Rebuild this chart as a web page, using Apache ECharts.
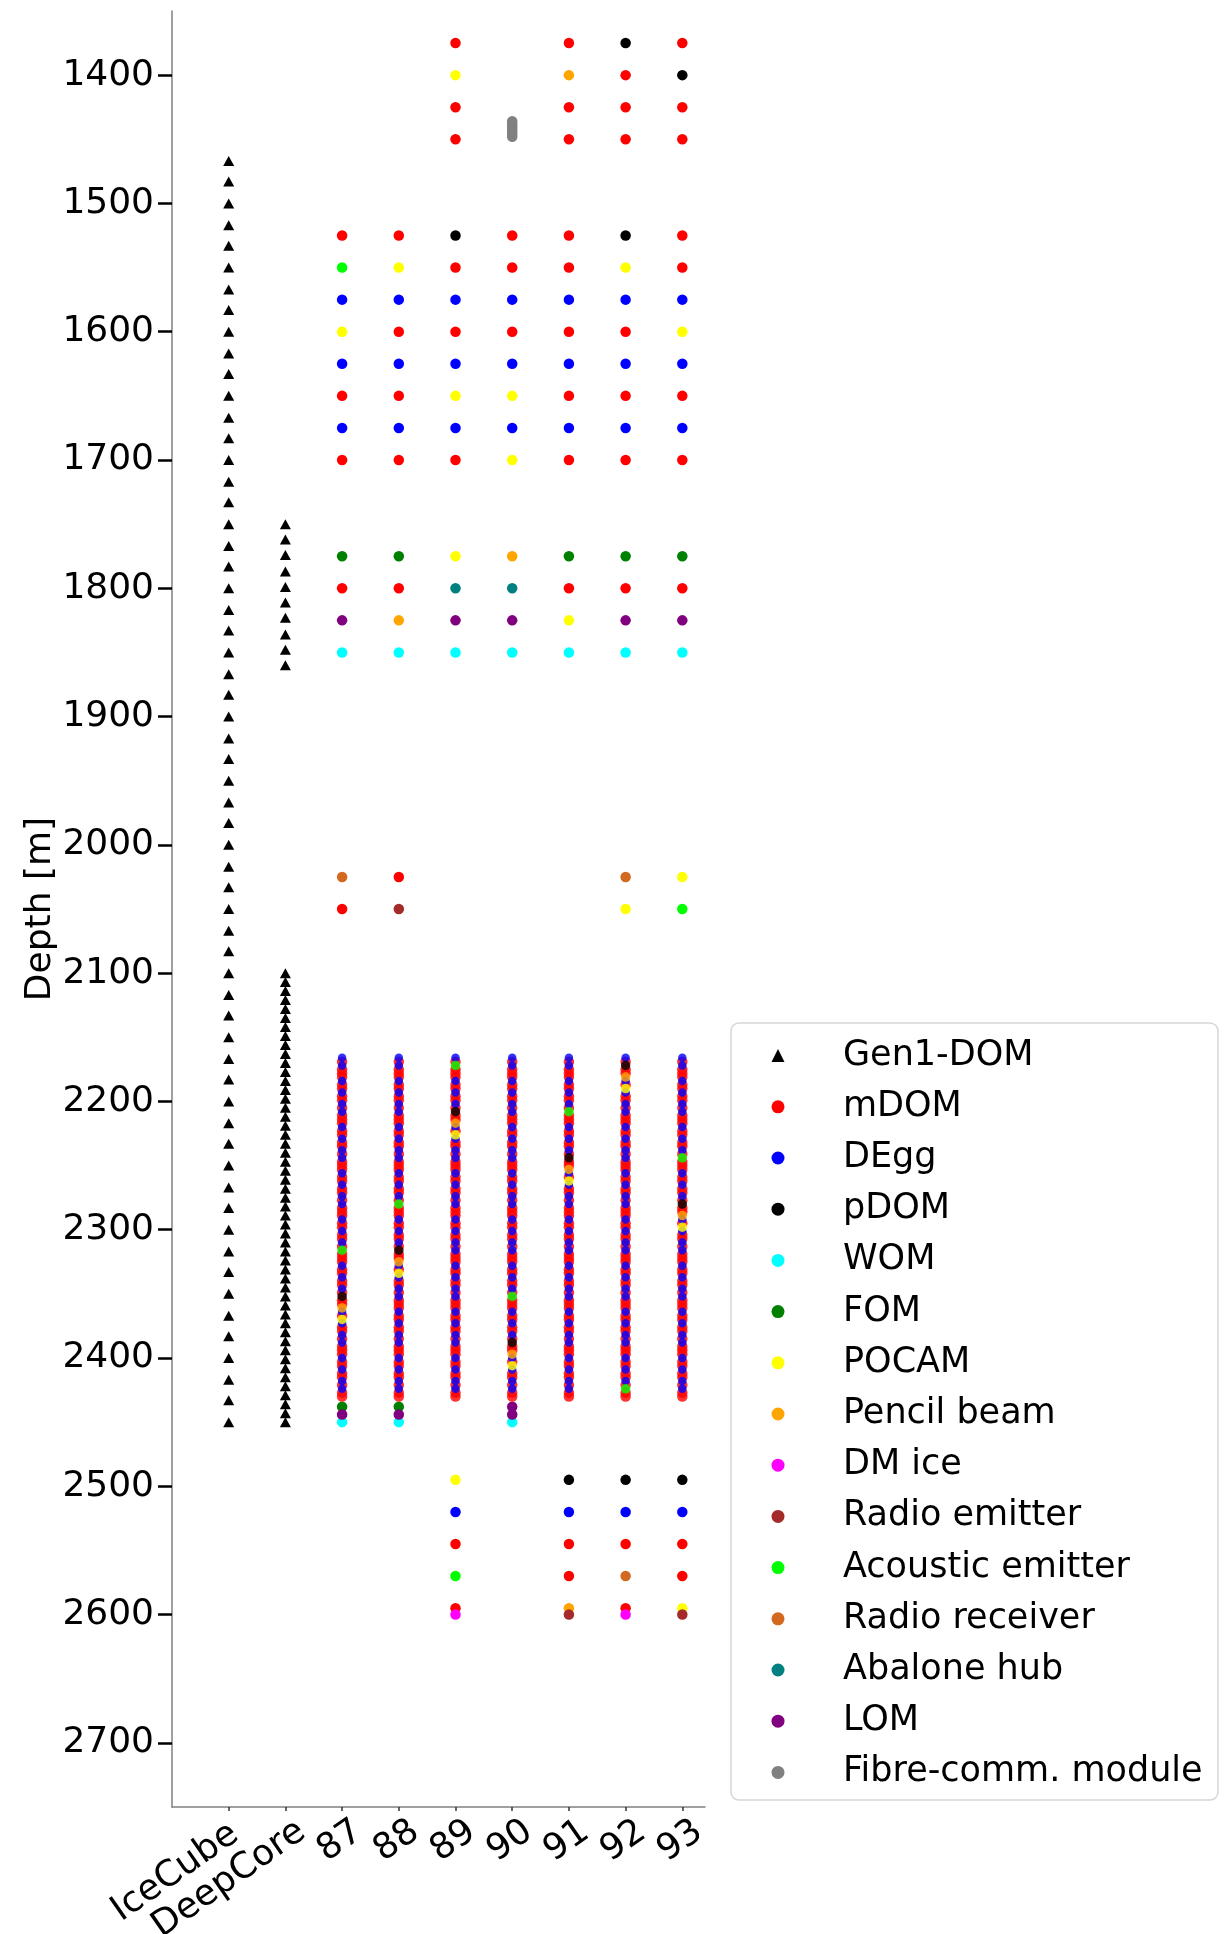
<!DOCTYPE html>
<html>
<head>
<meta charset="utf-8">
<script src="https://cdn.jsdelivr.net/npm/echarts@6/dist/echarts.min.js"></script>
<style>
html,body{margin:0;padding:0;background:#fff;}
#chart{width:1228px;height:1934px;}
</style>
</head>
<body>
<div id="chart"></div>
<script>
// ---------------- DATA ----------------
const categories = ['IceCube', 'DeepCore', '87', '88', '89', '90', '91', '92', '93'];
const yTickValues = [1400, 1500, 1600, 1700, 1800, 1900, 2000, 2100, 2200, 2300, 2400, 2500, 2600, 2700];

const moduleNames = ['Gen1-DOM', 'mDOM', 'DEgg', 'pDOM', 'WOM', 'FOM', 'POCAM', 'Pencil beam', 'DM ice',
  'Radio emitter', 'Acoustic emitter', 'Radio receiver', 'Abalone hub', 'LOM', 'Fibre-comm. module'];
const moduleCodes = ['T', 'M', 'D', 'P', 'W', 'F', 'C', 'B', 'I', 'R', 'A', 'V', 'H', 'L', 'G'];

// IceCube string (Gen1 DOMs)
const icecubeDepths = [1467, 1483, 1500, 1517, 1533, 1550, 1567, 1583, 1600, 1617, 1633, 1650, 1667, 1683, 1700,
  1717, 1733, 1750, 1767, 1783, 1800, 1817, 1833, 1850, 1867, 1883, 1900, 1917, 1933, 1950, 1967, 1983, 2000,
  2017, 2033, 2050, 2067, 2083, 2100, 2117, 2133, 2150, 2167, 2183, 2200, 2217, 2233, 2250, 2267, 2283, 2300,
  2317, 2333, 2350, 2367, 2383, 2400, 2417, 2433, 2450];

// DeepCore string (Gen1 DOMs)
const deepcoreDepths = [1750, 1762, 1774, 1787, 1799, 1811, 1823, 1836, 1848, 1860,
  2100, 2107, 2114, 2121, 2128, 2135, 2142, 2149, 2156, 2163, 2170, 2177, 2184, 2191, 2198, 2205, 2212,
  2219, 2226, 2233, 2240, 2247, 2254, 2261, 2268, 2275, 2282, 2289, 2296, 2303, 2310, 2317, 2324, 2331,
  2338, 2345, 2352, 2359, 2366, 2373, 2380, 2387, 2394, 2401, 2408, 2415, 2422, 2429, 2436, 2443, 2450];

// Upgrade strings 87..93, sparse rows: one character per string (87..93), '.' = none
const sparseDepths = [1375, 1400, 1425, 1450, 1525, 1550, 1575, 1600, 1625, 1650, 1675, 1700,
  1775, 1800, 1825, 1850, 2025, 2050, 2438, 2444, 2450, 2495, 2520, 2545, 2570, 2595, 2600];
const sparseCodes = ['..M.MPM', '..C.BMP', '..M.MMM', '..M.MMM', 'MMPMMPM', 'ACMMMCM', 'DDDDDDD',
  'CMMMMMC', 'DDDDDDD', 'MMCCMMM', 'DDDDDDD', 'MMMCMMM', 'FFCBFFF', 'MMHHMMM', 'LBLLCLL', 'WWWWWWW',
  'VM...VC', 'MR...CA', 'FF.L...', 'LL.L...', 'WW.W...', '..C.PPP', '..D.DDD', '..M.MMM', '..A.MVM',
  '..M.BMC', '..I.RIR'];

// Dense region (all upgrade strings), top to bottom
const denseDepths = [2166, 2169, 2172, 2175, 2178, 2181, 2184, 2187, 2190, 2193,
  2196, 2199, 2202, 2205, 2208, 2211, 2214, 2217, 2220, 2223,
  2226, 2229, 2232, 2235, 2238, 2241, 2244, 2247, 2250, 2253,
  2256, 2259, 2262, 2265, 2268, 2271, 2274, 2277, 2280, 2283,
  2286, 2289, 2292, 2295, 2298, 2301, 2304, 2307, 2310, 2313,
  2316, 2319, 2322, 2325, 2328, 2331, 2334, 2337, 2340, 2343,
  2346, 2349, 2352, 2355, 2358, 2361, 2364, 2367, 2370, 2373,
  2376, 2379, 2382, 2385, 2388, 2391, 2394, 2397, 2400, 2403,
  2406, 2409, 2412, 2415, 2418, 2421, 2424, 2427, 2430];
const denseCodes = ['DMDMMMDMMDMM', 'DMDMMMDMMDMM', 'DMDMMMDMMDMM', 'DMDMMMDMMDMM',
  'DMDMMMDMMDMM', 'DMDMMMDMMDMM', 'DMDMMMDMMDMM', 'DMDMM'].join('');
const denseSpecials = {
  '87': [[2316, 'A'], [2352, 'P'], [2361, 'B'], [2370, 'C']],
  '88': [[2280, 'A'], [2316, 'P'], [2325, 'B'], [2334, 'C']],
  '89': [[2172, 'A'], [2208, 'P'], [2217, 'B'], [2226, 'C']],
  '90': [[2352, 'A'], [2388, 'P'], [2397, 'B'], [2406, 'C']],
  '91': [[2208, 'A'], [2244, 'P'], [2253, 'B'], [2262, 'C']],
  '92': [[2172, 'P'], [2181, 'B'], [2190, 'C'], [2424, 'A']],
  '93': [[2244, 'A'], [2280, 'P'], [2289, 'B'], [2298, 'C']]
};

// Fibre-communication module cluster on string 90
const fibreDepths = [1436, 1438, 1440, 1442, 1444, 1446, 1448];

// ---------------- STYLE ----------------
const moduleColors = ['#000000', '#ff0000', '#0000ff', '#000000', '#00ffff', '#008000', '#ffff00', '#ffa500',
  '#ff00ff', '#a52a2a', '#00ff00', '#d2691e', '#008080', '#800080', '#808080'];
const FONT = 'DejaVu Sans';
const DOT = 10.5;                                   // isolated modules
const DENSE_SIZE = { M: 10.5, D: 8.5, other: 9.5 }; // tightly packed modules
const X_MAX = 9.4;
const PLOT_LEFT = 172, PLOT_RIGHT = 705;

// ---------------- BUILD ----------------
const seriesData = moduleNames.map(() => []);
function add(code, x, depth) {
  const i = moduleCodes.indexOf(code);
  if (i >= 0) seriesData[i].push([x, depth]);
}
icecubeDepths.forEach(d => add('T', 1, d));
deepcoreDepths.forEach(d => add('T', 2, d));
const upgradeStrings = categories.slice(2);
upgradeStrings.forEach((s, si) => {
  sparseDepths.forEach((d, ri) => add(sparseCodes[ri][si], si + 3, d));
});
fibreDepths.forEach(d => add('G', 6, d));

const series = moduleNames.map((name, i) => ({
  name: name,
  type: 'scatter',
  symbol: i === 0 ? 'triangle' : 'circle',
  symbolSize: i === 0 ? [11, 10] : DOT,
  itemStyle: { color: moduleColors[i], opacity: 1 },
  emphasis: { disabled: true },
  silent: true,
  animation: false,
  data: seriesData[i]
}));

// dense region: mDOMs first, DEggs over them, special modules on top
upgradeStrings.forEach((s, si) => {
  const specials = {};
  denseSpecials[s].forEach(([d, c]) => { specials[d] = c; });
  const layers = { M: [], D: [], other: [] };
  denseDepths.forEach((d, k) => {
    const code = specials[d] || denseCodes[k];
    const layer = code === 'M' ? 'M' : (code === 'D' ? 'D' : 'other');
    layers[layer].push({
      value: [si + 3, d],
      symbolSize: DENSE_SIZE[layer],
      itemStyle: { color: moduleColors[moduleCodes.indexOf(code)] }
    });
  });
  series.push({
    name: 'dense-' + s,
    type: 'scatter',
    symbol: 'circle',
    emphasis: { disabled: true },
    silent: true,
    animation: false,
    data: layers.M.concat(layers.D, layers.other)
  });
});

// label grid spans x = 0 .. 9 of the data grid so that category i sits on x = i
const unit = (PLOT_RIGHT - PLOT_LEFT) / X_MAX;
const labelGridRight = 1228 - (PLOT_LEFT + unit * categories.length);
const labelCategories = [''].concat(categories).map(c =>
  c === 'IceCube' ? { value: c, textStyle: { verticalAlign: 'top', padding: [0, 5, 0, 0] } } : c);

const chart = echarts.init(document.getElementById('chart'), null, { renderer: 'canvas' });
chart.setOption({
  animation: false,
  backgroundColor: '#ffffff',
  grid: [
    { left: PLOT_LEFT, right: 1228 - PLOT_RIGHT, top: 11, bottom: 127, outerBoundsMode: 'none', containLabel: false },
    { left: PLOT_LEFT, right: labelGridRight, top: 11, bottom: 127, outerBoundsMode: 'none', containLabel: false }
  ],
  xAxis: [{
    type: 'value', min: 0, max: X_MAX, gridIndex: 0,
    axisLine: { show: true, lineStyle: { color: '#808080', width: 1.5 } },
    axisTick: { show: true, length: 4, lineStyle: { color: '#333', width: 1.5 }, customValues: [1, 2, 3, 4, 5, 6, 7, 8, 9] },
    axisLabel: { show: false },
    splitLine: { show: false }
  }, {
    type: 'category', gridIndex: 1, boundaryGap: false,
    data: labelCategories,
    axisLine: { show: false },
    axisTick: { show: false },
    axisLabel: {
      interval: 0,
      rotate: 35, margin: 6, verticalAlign: 'top', padding: [4, -5, 0, 0],
      fontSize: 36, fontFamily: FONT, color: '#000'
    },
    splitLine: { show: false }
  }],
  yAxis: [{
    type: 'value', inverse: true, min: 1350, max: 2750, gridIndex: 0,
    name: 'Depth [m]', nameLocation: 'middle', nameGap: 87,
    nameTextStyle: { fontSize: 36, fontFamily: FONT, color: '#000' },
    axisLine: { show: true, lineStyle: { color: '#808080', width: 1.5 } },
    axisTick: { show: true, length: 14, lineStyle: { color: '#000', width: 2.5 }, customValues: yTickValues },
    axisLabel: {
      customValues: yTickValues, showMinLabel: true, showMaxLabel: true,
      formatter: v => String(v),
      margin: 18, fontSize: 36, fontFamily: FONT, color: '#000'
    },
    splitLine: { show: false }
  }, {
    type: 'value', gridIndex: 1, show: false, min: 0, max: 1
  }],
  legend: {
    orient: 'vertical',
    left: 771.5, top: 1035.6,
    padding: 0,
    itemWidth: 13, itemHeight: 13,
    itemGap: 11.2,
    selectedMode: false,
    data: moduleNames,
    textStyle: { fontSize: 35, fontFamily: FONT, color: '#000', lineHeight: 40, padding: [0, 0, 0, 53.5] }
  },
  graphic: [{
    type: 'rect', z: 0, silent: true,
    shape: { x: 731, y: 1023, width: 487, height: 777, r: 8 },
    style: { fill: '#ffffff', stroke: '#d6d6d6', lineWidth: 1.5 }
  }],
  series: series
});
</script>
</body>
</html>
